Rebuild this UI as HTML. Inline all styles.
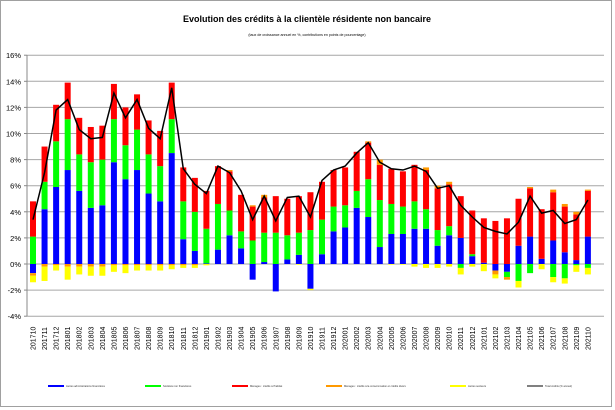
<!DOCTYPE html>
<html><head><meta charset="utf-8"><style>
html,body{margin:0;padding:0;background:#fff;}
svg{display:block;font-family:"Liberation Sans",sans-serif;}
</style></head><body>
<svg id="c" width="615" height="410" viewBox="0 0 615 410" xmlns="http://www.w3.org/2000/svg">
<rect x="0.5" y="0.5" width="611" height="406" fill="#fff" stroke="#a0a0a0" stroke-width="1"/>
<text x="307" y="22" text-anchor="middle" font-size="9" font-weight="bold">Evolution des crédits à la clientèle résidente non bancaire</text>
<text x="307" y="36" text-anchor="middle" font-size="3.6">(taux de croissance annuel en %, contributions en points de pourcentage)</text>
<g id="g"></g>
</svg>
<script>
var d=[
[-0.7,2.1,2.7,-0.2,-0.5,3.4],[4.2,2.1,2.7,-0.2,-1.1,7.0],[5.9,3.5,2.8,-0.1,-0.4,11.8],[7.2,3.9,2.8,-0.2,-1.0,12.6],
[5.6,2.8,2.8,-0.2,-0.6,10.3],[4.3,3.5,2.7,-0.2,-0.7,9.6],[4.5,3.5,2.6,-0.2,-0.7,9.7],[7.8,3.3,2.7,-0.1,-0.5,13.1],
[6.5,2.6,2.9,-0.1,-0.6,11.2],[7.2,3.1,2.7,-0.1,-0.4,12.6],[5.4,3.0,2.6,-0.1,-0.4,10.4],[4.8,2.7,2.7,-0.1,-0.4,9.6],
[8.5,2.6,2.8,-0.1,-0.3,13.5],[1.9,2.9,2.6,-0.1,-0.2,7.3],[1.0,3.0,2.6,-0.1,-0.2,6.1],[0.05,2.65,2.9,0,-0.1,5.4],
[1.1,3.5,2.9,0,0,7.5],[2.2,1.9,3.0,0.1,0,7.0],[1.2,1.3,2.8,0,0,5.6],[-1.2,1.8,2.6,0.1,0,3.4],
[0.15,2.25,2.7,0.2,0,5.2],[-2.1,2.4,2.8,0,0,3.3],[0.35,1.85,2.8,0,0,5.1],[0.7,1.7,2.8,0,-0.05,5.2],
[-1.9,2.6,2.9,0,-0.1,3.6],[0.75,2.65,2.9,0,0,6.4],[2.5,1.9,2.8,0,0,7.2],[2.8,1.7,2.9,0,0,7.5],
[4.3,1.3,3.0,0,0,8.5],[3.6,2.9,2.8,0.1,0,9.3],[1.3,3.6,2.7,0.4,0,7.8],[2.3,2.3,2.7,0,-0.05,7.3],
[2.3,2.1,2.7,0,-0.05,7.2],[2.7,2.1,2.8,0,-0.2,7.5],[2.7,1.5,3.0,0.2,-0.3,7.1],[1.4,1.2,3.2,0.2,-0.3,5.8],
[2.2,0.7,3.2,0.2,-0.2,6.0],[2.0,-0.3,3.2,0,-0.5,4.5],[0.6,0.15,3.35,0,-0.2,3.6],[0.1,0,3.4,0,-0.55,2.8],
[-0.5,0,3.3,-0.3,-0.3,2.5],[-0.6,-0.4,3.5,-0.2,0,2.3],[1.4,-1.3,3.6,0,-0.5,3.2],[2.1,-0.7,3.7,0.1,0,5.2],
[0.4,0,3.8,0,-0.4,3.9],[1.8,-1.0,3.7,0.2,-0.4,4.1],[0.9,-1.1,3.5,0.2,-0.4,3.1],[0.3,-0.1,3.5,0.2,-0.5,3.4],
[2.1,-0.3,3.5,0.1,-0.5,4.9]];
var cols=["#0000ff","#00ff00","#ff0000","#ff9900","#ffff00"];
var Y0=264,U=13.05,X0=33,DX=11.56,W=6;
function y(v){return Y0-v*U;}
var s="";
for(var k=-4;k<=16;k+=2){var yy=y(k);s+='<line x1="27" x2="604" y1="'+yy+'" y2="'+yy+'" stroke="#a6a6a6" stroke-width="1"/>';
s+='<text x="21" y="'+(yy+3)+'" text-anchor="end" font-size="7.5">'+k+'%</text>';s+='<line x1="24" x2="27" y1="'+yy+'" y2="'+yy+'" stroke="#888"/>';}
s+='<line x1="27" x2="27" y1="55" y2="316" stroke="#888"/>';
var pts=[];
for(var i=0;i<d.length;i++){
 var cx=X0+i*DX,p=0,n=0,r=d[i];
 for(var j=0;j<5;j++){var v=r[j];if(v>=0){s+='<rect x="'+(cx-W/2)+'" y="'+y(p+v)+'" width="'+W+'" height="'+(v*U)+'" fill="'+cols[j]+'"/>';p+=v;}
 else{s+='<rect x="'+(cx-W/2)+'" y="'+y(n)+'" width="'+W+'" height="'+(-v*U)+'" fill="'+cols[j]+'"/>';n+=v;}}
 pts.push(cx+','+y(r[5]));
 var yr=2017+Math.floor((i+9)/12),m=((i+9)%12)+1;
 var lab=yr+(m<10?'0':'')+m;
 s+='<text transform="translate('+(cx+2.5)+',350) rotate(-90)" font-size="7">'+lab+'</text>';
}
s+='<polyline points="'+pts.join(' ')+'" fill="none" stroke="#000" stroke-width="1.5"/>';
var lg=[[48,"#0000ff","Autres administrations financières"],[145,"#00ff00","Sociétés non financières"],[232,"#ff0000","Ménages : crédits à l'habitat"],[326,"#ff9900","Ménages : crédits à la consommation et crédits divers"],[450,"#ffff00","Autres secteurs"],[527,"#808080","Total crédits (% annuel)"]];
for(var q=0;q<lg.length;q++){s+='<line x1="'+lg[q][0]+'" x2="'+(lg[q][0]+16)+'" y1="386" y2="386" stroke="'+lg[q][1]+'" stroke-width="2"/>';
s+='<text x="'+(lg[q][0]+18)+'" y="387" font-size="2.6" fill="#333">'+lg[q][2]+'</text>';}
document.getElementById("g").innerHTML=s;
</script>
</body></html>
